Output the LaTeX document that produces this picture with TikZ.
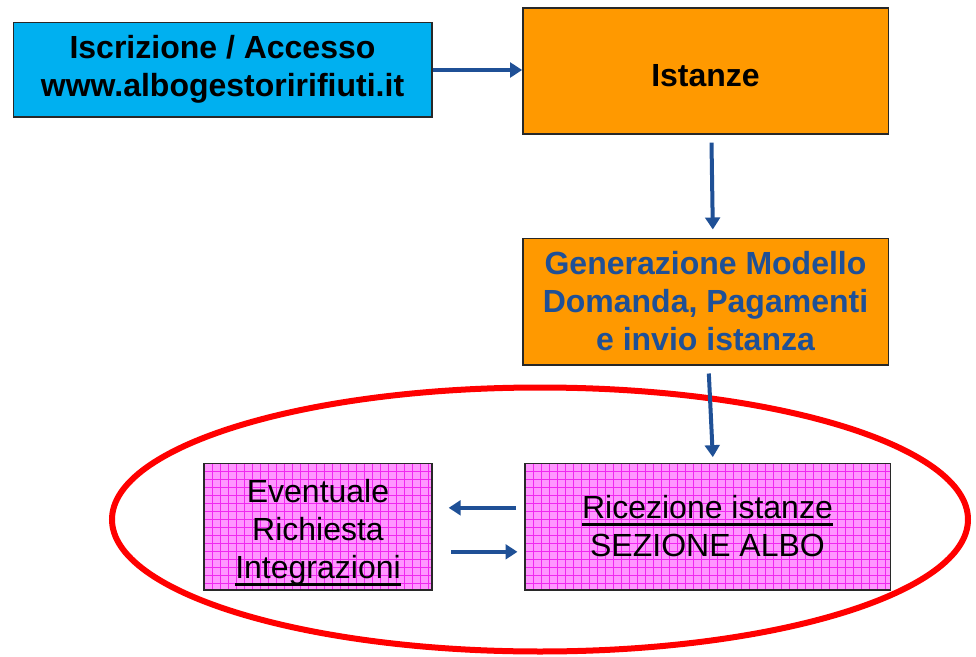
\documentclass[tikz,border=0pt]{standalone}
\usepackage{fontspec}
\setmainfont{Liberation Sans}
\usetikzlibrary{arrows.meta,positioning,shapes.geometric}

\definecolor{albocyan}{RGB}{0,176,240}
\definecolor{alboorange}{RGB}{255,153,0}
\definecolor{alboblue}{RGB}{31,80,150}
\definecolor{albopink}{RGB}{255,150,255}
\definecolor{albogrid}{RGB}{240,40,240}
\definecolor{alboborder}{RGB}{40,40,40}

% thick underline as in the slide
\newcommand\thickul[1]{\setbox0\hbox{#1}\rlap{\smash{\raisebox{-5.5pt}{\rule{\wd0}{2.2pt}}}}\box0}

\tikzset{
  box/.style={draw=alboborder,line width=1pt,align=center,inner sep=0pt,
              font=\fontsize{24}{28.5}\selectfont},
  boldbox/.style={box,font=\fontsize{24}{28.5}\selectfont\bfseries},
  flow/.style={-{Triangle[length=9pt,width=11pt]},line width=3pt,draw=alboblue}
}

\begin{document}
\begin{tikzpicture}[x=0.75pt,y=-0.75pt]
  \useasboundingbox (0,0) rectangle (976,657);

  % top row
  \node[boldbox,fill=albocyan,minimum width=314pt,minimum height=71pt] (iscr) at (222.5,69.5)
    {Iscrizione / Accesso\\www.albogestoririfiuti.it};
  \node[boldbox,fill=alboorange,minimum width=274pt,minimum height=94.5pt] (ist) at (705.5,71)
    {\rule{0pt}{23.5pt}Istanze};

  % modello domanda
  \node[boldbox,fill=alboorange,text=alboblue,minimum width=274pt,minimum height=95pt] (gen) at (705.5,301.5)
    {Generazione Modello\\Domanda, Pagamenti\\e invio istanza};

  % pink grid boxes
  \foreach \nm/\cx/\w in {ric/707.5/365, evt/318/228} {
    \begin{scope}
      \clip (\cx-\w/2,463) rectangle (\cx+\w/2,590);
      \fill[albopink] (\cx-\w/2,463) rectangle (\cx+\w/2,590);
      \foreach \gx in {0,8,...,368}
        \draw[albogrid,line width=0.45pt] (\cx-\w/2+\gx,463) -- (\cx-\w/2+\gx,590);
      \foreach \gy in {0,8,...,128}
        \draw[albogrid,line width=0.45pt] (\cx-\w/2,463+\gy) -- (\cx+\w/2,463+\gy);
    \end{scope}
  }
  \node[box,minimum width=274pt,minimum height=95pt] (ric) at (707.5,526.5)
    {\thickul{Ricezione istanze}\\SEZIONE ALBO};
  \node[box,minimum width=171pt,minimum height=95pt] (evt) at (318,526.5)
    {\rule{0pt}{26pt}Eventuale\\Richiesta\\\thickul{Integrazioni}};

  % ellipse round the albo section
  \node[draw=red,line width=4.5pt,ellipse,minimum width=642pt,minimum height=198pt,inner sep=0pt] (sez) at (540,519.5) {};

  % connectors
  \coordinate (a1) at (433,70);
  \draw[flow] (iscr.east |- a1) -- (ist.west |- a1);
  \draw[flow] ([xshift=4.5pt]ist.south) ++(0,-6pt) -- ([xshift=5.5pt,yshift=6pt]gen.north);
  \draw[flow] ([xshift=2.5pt]gen.south) ++(0,-6pt) -- ([xshift=4pt,yshift=4pt]ric.north);
  \draw[flow] ([xshift=-6pt,yshift=14pt]ric.west) -- ([xshift=12pt,yshift=14pt]evt.east);
  \draw[flow] ([xshift=14pt,yshift=-19pt]evt.east) -- ([xshift=-5pt,yshift=-19pt]ric.west);
\end{tikzpicture}
\end{document}
